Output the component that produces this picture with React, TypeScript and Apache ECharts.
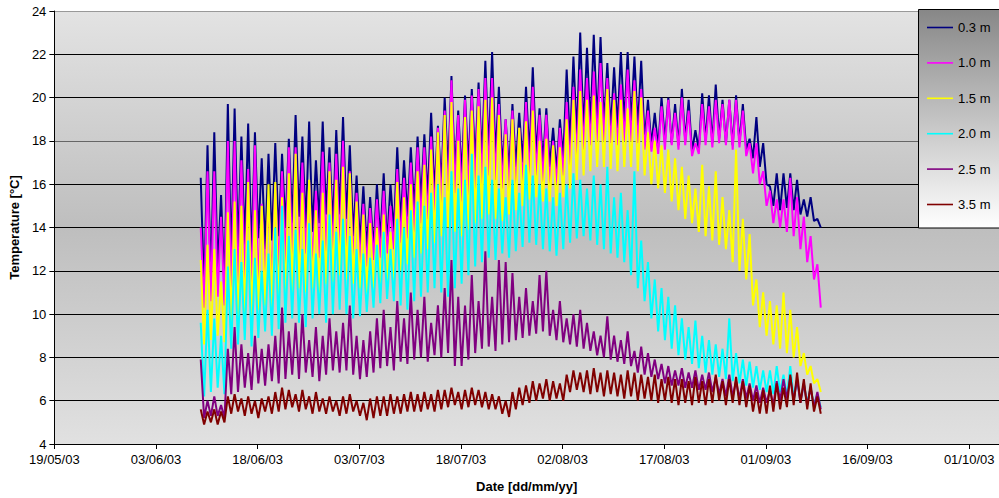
import React, { useEffect, useRef } from "react";
import * as echarts from "echarts";

// Day offsets are counted from 19/05/03 (the first x tick).
const AXIS_START_UTC = Date.UTC(2003, 4, 19);
const FIRST_SAMPLE = 21.6; // first afternoon peak (09/06/03)
const X_TICKS_STEP = 15;
const Y_MIN = 4;
const Y_MAX = 24;

const SERIES_NAMES = ["0.3 m", "1.0 m", "1.5 m", "2.0 m", "2.5 m", "3.5 m"];
const SERIES_COLORS = ["#000080", "#ff00ff", "#ffff00", "#00ffff", "#800080", "#800000"];

// Daily maxima (afternoon) and minima (night)
const D03_HI = [
  16.3, 17.8, 18.4, 15.5, 19.7, 19.5, 18.2, 18.8, 18.4, 17.2,
  17.4, 17.9, 17.4, 18.1, 19.2, 18.2, 18.9, 17.1, 18.9, 17.7,
  18.5, 19.1, 17.8, 16.4, 15.9, 15.4, 16.0, 16.5, 16.0, 17.7,
  17.1, 17.7, 18.2, 18.3, 19.3, 18.7, 20.0, 21.0, 19.4, 20.1,
  20.4, 20.7, 21.7, 22.1, 20.5, 19.0, 19.7, 19.3, 20.5, 21.4,
  19.5, 19.5, 18.6, 19.0, 21.3, 21.9, 23.0, 22.3, 22.9, 22.8,
  21.6, 21.4, 22.1, 22.1, 21.9, 21.7, 19.9, 19.3, 20.0, 20.0,
  19.7, 20.4, 19.9, 18.5, 20.2, 20.1, 20.6, 19.9, 19.9, 20.1,
  19.7, 18.1, 19.1, 17.9, 15.9, 16.5, 16.5, 16.5, 16.2, 15.3,
  15.4, 14.4,
];
const D03_LO = [
  11.0, 11.5, 12.0, 11.2, 12.5, 13.0, 13.2, 12.8, 13.5, 13.0,
  13.4, 13.6, 14.0, 14.2, 14.5, 14.0, 13.8, 14.2, 14.6, 14.0,
  14.6, 14.4, 13.6, 13.2, 13.0, 13.0, 13.4, 13.2, 13.8, 14.2,
  14.5, 14.8, 15.2, 15.4, 15.6, 16.0, 16.5, 16.6, 16.4, 16.8,
  17.0, 17.2, 17.4, 17.2, 16.8, 16.6, 16.8, 17.0, 17.3, 17.4,
  17.0, 16.8, 16.6, 17.2, 17.8, 18.2, 18.4, 18.6, 18.8, 18.7,
  18.5, 18.6, 18.8, 18.8, 18.6, 18.0, 17.8, 17.7, 18.0, 17.9,
  17.8, 18.0, 17.5, 17.6, 18.0, 17.9, 18.1, 17.9, 17.8, 17.9,
  17.6, 17.2, 16.8, 16.0, 15.0, 14.8, 14.9, 14.8, 14.6, 14.5,
  14.3, 14.0,
];
const D10_HI = [
  14.0, 16.6, 16.6, 14.5, 18.0, 18.0, 17.1, 16.7, 17.8, 15.1,
  15.2, 16.0, 16.6, 17.7, 17.7, 17.0, 16.1, 15.7, 17.5, 17.0,
  17.4, 18.0, 16.6, 15.6, 15.1, 14.9, 15.3, 15.7, 15.0, 16.7,
  16.3, 17.0, 17.7, 17.7, 18.2, 18.6, 19.4, 20.8, 19.2, 19.9,
  20.1, 20.4, 20.9, 20.9, 19.7, 19.0, 19.4, 18.6, 19.8, 20.5,
  19.2, 19.2, 18.0, 18.6, 19.8, 20.5, 21.3, 20.9, 21.2, 21.6,
  20.9, 20.2, 20.6, 21.3, 20.8, 20.4, 19.4, 18.6, 19.6, 19.9,
  19.3, 20.0, 19.4, 17.9, 19.7, 19.6, 19.9, 19.7, 19.9, 19.9,
  19.4, 17.9, 17.9, 16.6, 15.7, 15.3, 15.3, 16.3, 15.4, 14.5,
  13.6, 12.3,
];
const D10_LO = [
  10.3, 10.6, 10.8, 10.4, 10.8, 11.2, 11.6, 11.0, 11.4, 11.8,
  11.5, 12.0, 12.3, 12.6, 12.4, 12.8, 12.2, 12.6, 12.9, 12.7,
  13.0, 12.8, 12.4, 12.3, 12.2, 12.5, 12.6, 12.8, 13.0, 13.3,
  13.5, 13.8, 14.2, 14.4, 14.6, 15.0, 15.3, 15.6, 15.2, 15.5,
  15.8, 16.0, 16.4, 16.2, 15.8, 15.6, 15.8, 16.0, 16.3, 16.4,
  16.1, 16.0, 16.0, 16.4, 16.8, 17.2, 17.6, 17.8, 18.0, 18.0,
  17.9, 17.8, 18.0, 18.0, 17.9, 17.6, 17.5, 17.4, 17.6, 17.8,
  17.6, 17.8, 17.3, 17.4, 17.8, 17.7, 17.9, 17.8, 17.6, 17.7,
  17.3, 16.5, 16.0, 15.0, 14.2, 14.0, 13.8, 13.6, 13.0, 12.4,
  11.6, 10.3,
];
const D15_HI = [
  12.5, 13.2, 13.0, 11.5, 14.7, 15.2, 15.0, 16.1, 14.8, 15.0,
  16.0, 16.1, 15.4, 16.5, 17.4, 15.6, 16.2, 14.8, 15.6, 16.6,
  16.2, 16.8, 16.5, 15.2, 14.6, 14.2, 14.0, 14.6, 13.8, 16.1,
  15.4, 16.0, 16.6, 16.9, 17.6, 18.4, 19.2, 19.8, 18.0, 19.1,
  19.4, 19.6, 19.9, 20.0, 19.2, 18.3, 19.0, 18.6, 18.9, 19.4,
  18.0, 18.1, 17.8, 17.7, 19.0, 19.9, 20.3, 19.9, 20.1, 19.8,
  20.4, 19.9, 19.9, 19.5, 20.3, 20.0, 18.4, 18.0, 17.8, 17.6,
  17.2, 16.8, 16.4, 15.8, 16.9, 15.9, 16.6, 15.4, 14.8, 17.6,
  14.4, 13.7, 11.6, 11.0, 10.6, 10.4, 11.0, 10.2, 9.4, 8.2,
  7.6, 7.0,
];
const D15_LO = [
  8.6, 8.8, 9.0, 8.7, 9.6, 9.8, 10.0, 9.8, 10.2, 10.4,
  10.2, 10.6, 10.8, 11.0, 11.2, 11.0, 11.2, 11.0, 11.4, 11.5,
  11.8, 11.6, 11.4, 11.2, 11.0, 11.2, 11.4, 11.5, 11.6, 12.0,
  12.3, 12.6, 12.8, 13.0, 13.3, 13.6, 14.0, 13.8, 13.6, 13.9,
  14.2, 14.4, 14.6, 14.4, 14.3, 14.6, 14.8, 15.0, 15.3, 15.4,
  15.2, 15.2, 15.0, 15.4, 15.8, 16.2, 16.4, 16.6, 16.8, 16.8,
  16.7, 16.6, 16.8, 16.8, 16.6, 16.4, 16.0, 15.8, 15.6, 15.2,
  14.8, 14.4, 14.2, 13.8, 13.6, 13.4, 13.2, 13.0, 12.4, 12.0,
  11.6, 10.4, 9.4, 9.0, 8.6, 8.4, 8.2, 8.0, 7.6, 7.2,
  6.8, 6.4,
];
const D20_HI = [
  9.6, 10.2, 9.8, 9.0, 12.2, 13.0, 12.4, 13.4, 12.6, 12.0,
  12.8, 14.0, 15.0, 13.6, 13.9, 13.0, 14.2, 12.8, 13.4, 14.6,
  13.8, 14.4, 13.6, 13.0, 12.8, 12.6, 13.2, 13.8, 13.0, 14.4,
  14.0, 14.8, 15.2, 15.0, 15.6, 16.0, 15.4, 16.6, 15.8, 16.2,
  17.4, 16.4, 16.8, 16.2, 15.8, 15.4, 16.2, 15.6, 16.9, 16.4,
  16.0, 15.8, 15.4, 15.6, 16.0, 16.5, 16.2, 15.8, 16.4, 16.0,
  16.8, 15.4, 15.6, 14.8, 16.6, 13.4, 12.4, 11.6, 11.2, 10.8,
  10.4, 9.8, 9.4, 9.7, 9.0, 8.8, 8.6, 8.4, 9.8, 8.2,
  7.9, 7.8, 7.6, 7.4, 7.4, 7.6, 7.2, 7.6, 7.0, 6.8,
  6.6, 6.3,
];
const D20_LO = [
  6.2, 6.4, 6.6, 6.3, 8.4, 8.6, 8.8, 8.5, 8.9, 9.2,
  9.0, 9.3, 9.6, 9.8, 9.6, 9.4, 9.8, 10.0, 9.6, 10.0,
  10.2, 10.0, 9.8, 9.9, 10.1, 10.3, 10.5, 10.7, 10.6, 10.4,
  10.2, 10.6, 10.8, 11.0, 11.2, 11.0, 10.8, 11.2, 11.4, 11.8,
  12.2, 12.4, 12.6, 12.5, 12.8, 12.6, 12.9, 13.1, 13.3, 13.2,
  13.0, 12.9, 12.7, 13.0, 13.3, 13.5, 13.6, 13.4, 13.2, 13.0,
  12.8, 12.6, 12.4, 11.8, 11.2, 10.6, 9.8, 9.2, 8.8, 8.4,
  8.1, 7.9, 7.7, 7.5, 7.3, 7.2, 7.1, 7.0, 6.9, 6.8,
  6.7, 6.6, 6.5, 6.4, 6.3, 6.4, 6.2, 6.1, 6.0, 5.9,
  5.8, 5.7,
];
const D25_HI = [
  7.9, 6.0, 6.2, 5.8, 8.4, 9.4, 8.6, 8.2, 9.0, 8.4,
  8.6, 9.0, 10.3, 9.2, 9.6, 10.0, 8.8, 9.4, 9.0, 9.8,
  9.2, 9.6, 10.4, 9.0, 8.8, 9.2, 9.8, 10.2, 9.4, 10.6,
  9.8, 11.0, 10.2, 10.8, 9.6, 10.4, 11.2, 12.5, 10.8, 10.4,
  11.8, 10.6, 12.9, 10.8, 12.5, 12.4, 11.9, 10.8, 11.2, 10.6,
  11.8, 12.0, 10.2, 10.6, 9.8, 10.0, 10.2, 9.6, 9.2, 9.0,
  9.9, 9.0, 8.8, 9.2, 8.3, 8.5, 8.2, 7.9, 7.7, 7.6,
  7.4, 7.5, 7.3, 7.4, 7.2, 7.3, 7.1, 7.0, 7.2, 6.9,
  7.0, 6.8, 6.7, 6.6, 6.5, 6.9, 7.0, 7.1, 7.0, 6.8,
  6.6, 6.4,
];
const D25_LO = [
  5.2, 5.3, 5.3, 5.2, 6.3, 6.4, 6.6, 6.5, 6.8, 6.7,
  6.9, 6.8, 7.0, 7.2, 7.0, 7.3, 7.1, 6.9, 7.2, 7.4,
  7.3, 7.4, 7.2, 7.0, 7.1, 7.3, 7.5, 7.6, 7.4, 7.8,
  7.7, 7.9, 8.0, 7.8, 8.1, 8.0, 8.2, 7.6, 7.6, 7.9,
  8.2, 8.4, 8.5, 8.3, 8.6, 8.7, 8.8, 8.9, 9.0, 9.1,
  9.2, 9.0, 8.8, 8.7, 8.6, 8.5, 8.4, 8.3, 8.1, 8.0,
  7.9, 7.8, 7.7, 7.6, 7.3, 7.2, 7.1, 7.0, 6.8, 6.7,
  6.7, 6.6, 6.6, 6.5, 6.5, 6.4, 6.3, 6.2, 6.2, 6.1,
  6.1, 6.0, 5.9, 5.9, 5.8, 6.0, 6.1, 6.0, 5.9, 5.8,
  5.7, 5.6,
];
const D35_HI = [
  5.6, 5.5, 5.6, 5.5, 6.2, 6.3, 6.1, 6.2, 6.0, 6.1,
  6.2, 6.4, 6.6, 6.5, 6.3, 6.5, 6.2, 6.4, 6.1, 6.2,
  6.0, 6.2, 6.3, 6.0, 5.9, 6.1, 6.2, 6.2, 6.3, 6.2,
  6.3, 6.4, 6.3, 6.4, 6.3, 6.5, 6.5, 6.6, 6.4, 6.5,
  6.6, 6.5, 6.4, 6.3, 6.2, 6.0, 6.4, 6.6, 6.7, 6.9,
  6.8, 7.0, 6.9, 6.8, 7.2, 7.4, 7.3, 7.4, 7.5, 7.3,
  7.4, 7.3, 7.2, 7.4, 7.3, 7.2, 7.1, 7.2, 7.0, 7.1,
  7.0, 7.0, 6.9, 7.1, 6.9, 7.0, 7.2, 6.9, 7.0, 7.1,
  6.9, 6.7, 6.4, 6.5, 6.7, 6.8, 6.6, 7.2, 7.3, 7.0,
  6.8, 6.2,
];
const D35_LO = [
  4.9, 5.0, 4.9, 5.0, 5.4, 5.5, 5.3, 5.4, 5.2, 5.5,
  5.4, 5.5, 5.6, 5.7, 5.5, 5.6, 5.4, 5.5, 5.4, 5.5,
  5.3, 5.4, 5.5, 5.3, 5.1, 5.2, 5.3, 5.3, 5.4, 5.4,
  5.5, 5.5, 5.5, 5.6, 5.5, 5.6, 5.7, 5.8, 5.6, 5.7,
  5.8, 5.7, 5.6, 5.6, 5.4, 5.25, 5.6, 5.8, 5.9, 6.0,
  6.1, 6.0, 6.1, 6.0, 6.4, 6.5, 6.4, 6.3, 6.4, 6.2,
  6.3, 6.2, 6.1, 6.2, 6.0, 6.1, 6.0, 5.9, 6.0, 5.9,
  5.8, 5.9, 5.8, 5.9, 5.8, 5.9, 6.0, 5.8, 5.9, 5.8,
  5.7, 5.5, 5.4, 5.4, 5.5, 5.6, 5.7, 5.8, 5.9, 5.6,
  5.5, 5.4,
];

const HI = [D03_HI, D10_HI, D15_HI, D20_HI, D25_HI, D35_HI];
const LO = [D03_LO, D10_LO, D15_LO, D20_LO, D25_LO, D35_LO];

const FONT = "'Liberation Sans', Arial, sans-serif";

function buildSeriesData(hi: number[], lo: number[]) {
  const pts: [number, number][] = [];
  for (let i = 0; i < hi.length; i++) {
    pts.push([FIRST_SAMPLE + i, hi[i]]);
    pts.push([FIRST_SAMPLE + i + 0.5, lo[i]]);
  }
  return pts;
}

function fmtDate(v: number) {
  const d = new Date(AXIS_START_UTC + Math.round(v) * 86400000);
  const dd = String(d.getUTCDate()).padStart(2, "0");
  const mm = String(d.getUTCMonth() + 1).padStart(2, "0");
  const yy = String(d.getUTCFullYear() % 100).padStart(2, "0");
  return `${dd}/${mm}/${yy}`;
}

export default function App() {
  const ref = useRef<HTMLDivElement>(null);
  useEffect(() => {
    if (!ref.current) return;
    const chart = echarts.init(ref.current, undefined, { renderer: "svg" });
    const splitColors = ["#000", "#000", "#000", "#000", "#000", "#000", "#000", "#666", "#000", "#000", "#999"];
    chart.setOption({
      animation: false,
      backgroundColor: "#ffffff",
      textStyle: { fontFamily: FONT },
      grid: {
        left: 52,
        right: 0,
        top: 11,
        bottom: 54,
        show: true,
        borderWidth: 0,
        backgroundColor: new echarts.graphic.LinearGradient(0, 0, 0, 1, [
          { offset: 0, color: "#e3e3e3" },
          { offset: 0.5, color: "#bebebe" },
          { offset: 1, color: "#e1e1e1" },
        ]),
      },
      xAxis: {
        type: "value",
        min: 0,
        max: 139.4,
        interval: X_TICKS_STEP,
        axisLine: { show: true, onZero: false, lineStyle: { color: "#000", width: 1 } },
        axisTick: { show: true, length: 5, lineStyle: { color: "#000" } },
        axisLabel: {
          formatter: (v: number) => fmtDate(v),
          color: "#000",
          fontSize: 13,
          fontFamily: FONT,
          margin: 9,
          showMaxLabel: false,
        },
        splitLine: { show: false },
        name: "Date [dd/mm/yy]",
        nameLocation: "middle",
        nameGap: 36,
        nameTextStyle: { fontWeight: "bold", fontSize: 13, color: "#000", fontFamily: FONT },
      },
      yAxis: {
        type: "value",
        min: Y_MIN,
        max: Y_MAX,
        interval: 2,
        axisLine: { show: true, lineStyle: { color: "#000", width: 1 } },
        axisTick: { show: true, length: 5, lineStyle: { color: "#000" } },
        axisLabel: { color: "#000", fontSize: 13, fontFamily: FONT, margin: 8 },
        splitLine: { show: true, lineStyle: { color: splitColors, width: 1 } },
        name: "Temperature [°C]",
        nameLocation: "middle",
        nameGap: 27,
        nameRotate: 90,
        nameTextStyle: { fontWeight: "bold", fontSize: 13, color: "#000", fontFamily: FONT },
      },
      legend: {
        orient: "vertical",
        left: 927,
        top: 21,
        padding: 0,
        icon: "path://M0,0H26V1.6H0Z",
        itemWidth: 26,
        itemHeight: 14,
        itemGap: 22.4,
        z: 10,
        data: SERIES_NAMES,
        textStyle: { fontSize: 13, color: "#000", fontFamily: FONT },
      },
      graphic: {
        elements: [
          {
            type: "rect",
            z: 5,
            shape: { x: 918.5, y: 9.5, width: 100, height: 218.5 },
            style: {
              fill: new echarts.graphic.LinearGradient(0, 0, 0, 1, [
                { offset: 0, color: "#878787" },
                { offset: 1, color: "#ffffff" },
              ]),
              stroke: "#000",
              lineWidth: 1,
            },
          },
        ],
      },
      series: SERIES_NAMES.map((name, k) => ({
        name,
        type: "line",
        symbol: "none",
        showSymbol: false,
        color: SERIES_COLORS[k],
        lineStyle: { color: SERIES_COLORS[k], width: 2 },
        data: buildSeriesData(HI[k], LO[k]),
        clip: true,
      })),
    });
    return () => chart.dispose();
  }, []);
  return (
    <div
      ref={ref}
      style={{ position: "absolute", left: 0, top: 0, width: 999, height: 498, background: "#fff" }}
    />
  );
}
